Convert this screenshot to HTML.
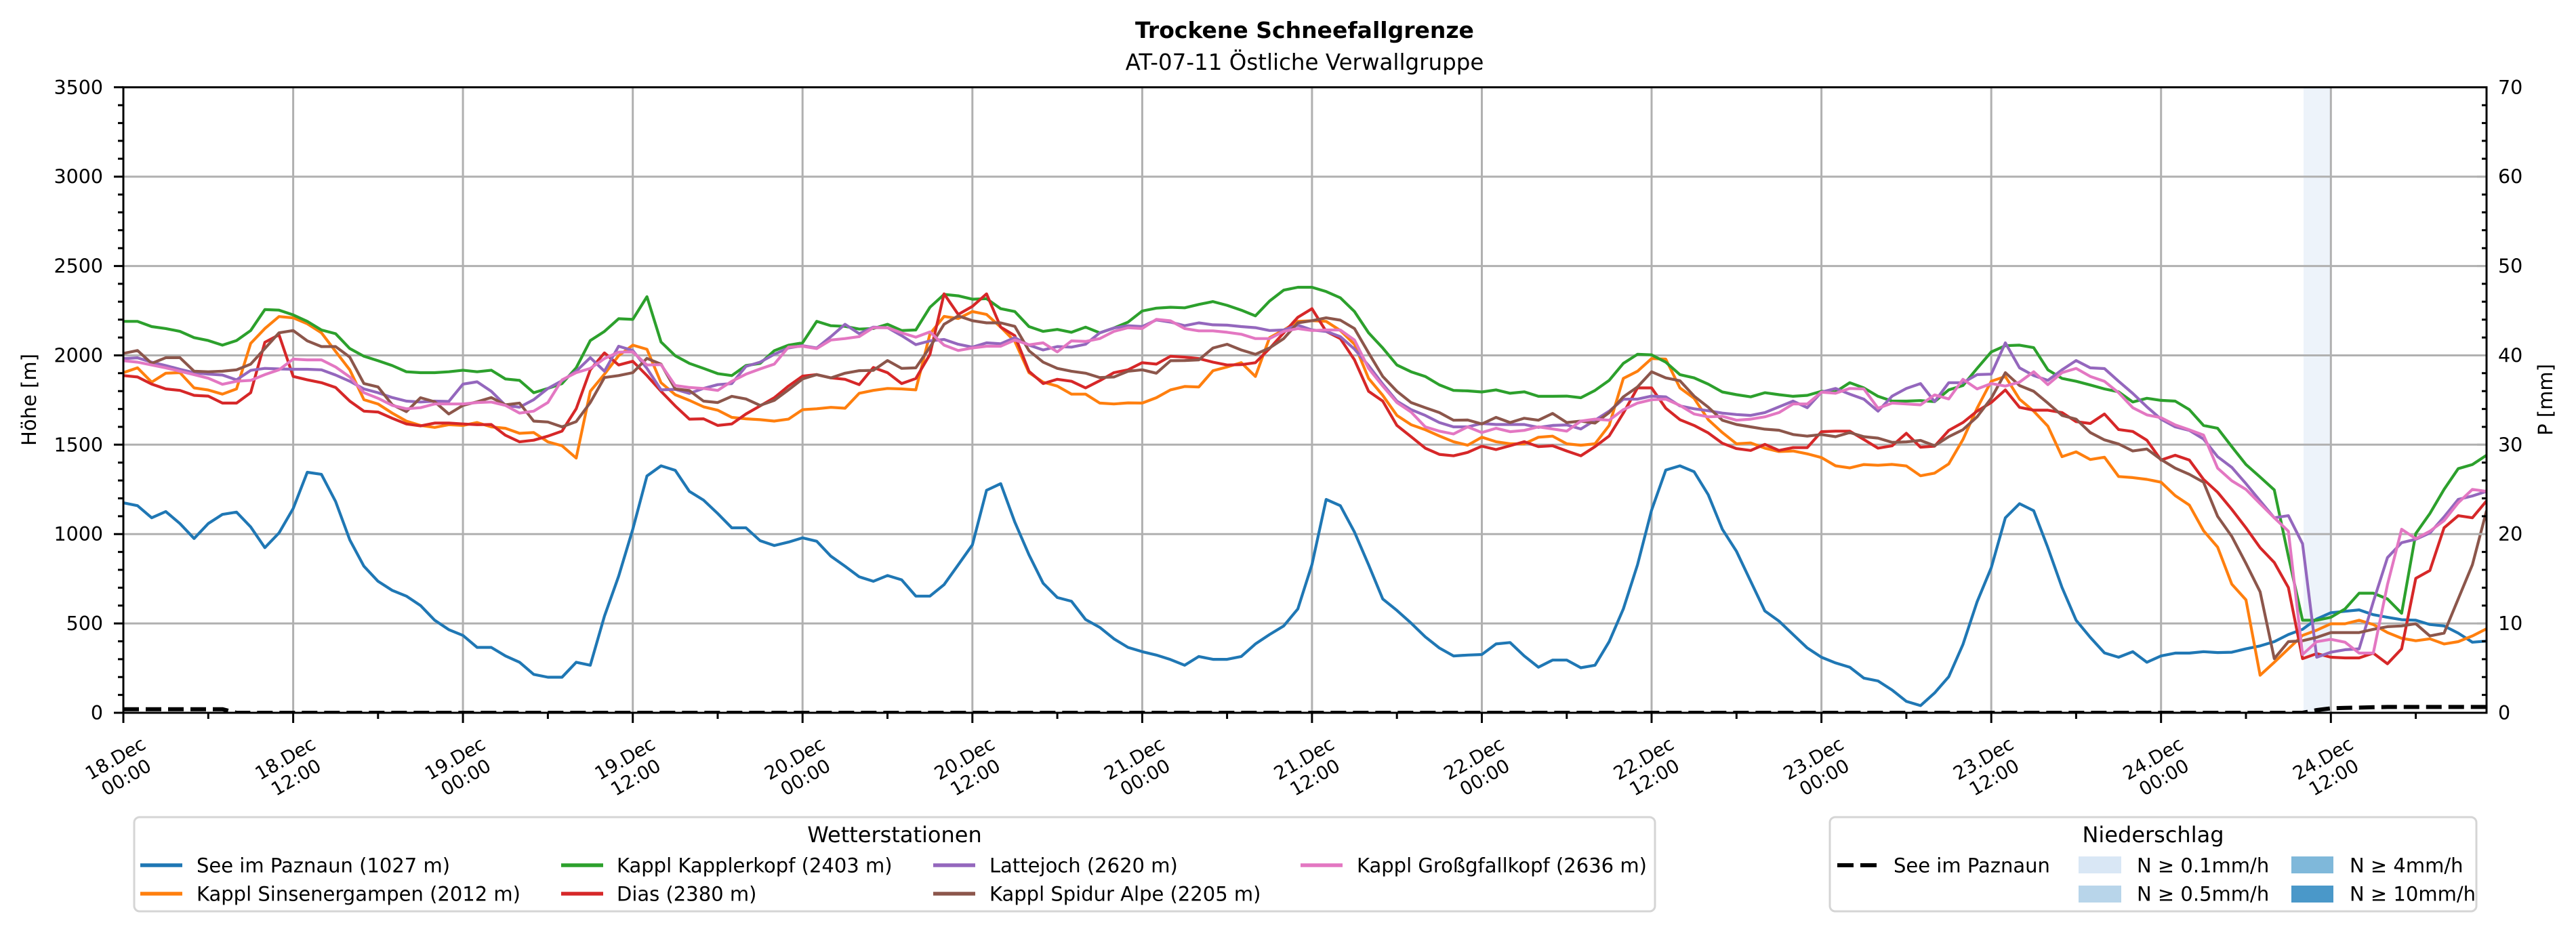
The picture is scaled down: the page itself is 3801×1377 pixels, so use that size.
<!DOCTYPE html>
<html>
<head>
<meta charset="utf-8">
<style>
html,body{margin:0;padding:0;background:#fff;}
body{width:3801px;height:1377px;overflow:hidden;}
svg{display:block;}
text{font-family:"DejaVu Sans","Liberation Sans",sans-serif;fill:#000;}
</style>
</head>
<body>
<svg id="s" width="3801" height="1377" viewBox="0 0 3801 1377" xmlns="http://www.w3.org/2000/svg">
<defs>
<clipPath id="ax"><rect x="182" y="128.8" width="3487" height="923.2"/></clipPath>
</defs>
<rect x="0" y="0" width="3801" height="1377" fill="#fff"/>
<!-- precipitation band -->
<rect x="3399" y="128.8" width="41" height="923.2" fill="#edf3fa"/>
<g id="grid" stroke="#b0b0b0" stroke-width="3" fill="none"></g>
<g id="lines" clip-path="url(#ax)" fill="none" stroke-width="4.2" stroke-linejoin="round"></g>
<g id="ticks" stroke="#000" stroke-width="3"></g>
<rect x="182" y="128.8" width="3487" height="923.2" fill="none" stroke="#000" stroke-width="3"/>

<!-- Titles -->
<text x="1925" y="56" text-anchor="middle" font-weight="bold" font-size="33">Trockene Schneefallgrenze</text>
<text x="1925" y="103" text-anchor="middle" font-size="32.5">AT-07-11 Östliche Verwallgruppe</text>

<!-- Left tick labels -->
<g font-size="28.5" text-anchor="end">
<text x="152" y="1062">0</text>
<text x="152" y="930.1">500</text>
<text x="152" y="798.2">1000</text>
<text x="152" y="666.3">1500</text>
<text x="152" y="534.5">2000</text>
<text x="152" y="402.6">2500</text>
<text x="152" y="270.7">3000</text>
<text x="152" y="138.8">3500</text>
</g>
<!-- Right tick labels -->
<g font-size="28.5" text-anchor="start">
<text x="3686" y="1062">0</text>
<text x="3686" y="930.1">10</text>
<text x="3686" y="798.2">20</text>
<text x="3686" y="666.3">30</text>
<text x="3686" y="534.5">40</text>
<text x="3686" y="402.6">50</text>
<text x="3686" y="270.7">60</text>
<text x="3686" y="138.8">70</text>
</g>
<!-- Axis labels -->
<text transform="translate(53,590) rotate(-90)" text-anchor="middle" font-size="29">Höhe [m]</text>
<text transform="translate(3766,590) rotate(-90)" text-anchor="middle" font-size="29">P [mm]</text>

<!-- X tick labels -->
<g font-size="27.5" text-anchor="middle">
<g transform="translate(178,1133) rotate(-30)"><text x="0" y="-6">18.Dec</text><text x="0" y="26">00:00</text></g>
<g transform="translate(428.6,1133) rotate(-30)"><text x="0" y="-6">18.Dec</text><text x="0" y="26">12:00</text></g>
<g transform="translate(679.1,1133) rotate(-30)"><text x="0" y="-6">19.Dec</text><text x="0" y="26">00:00</text></g>
<g transform="translate(929.7,1133) rotate(-30)"><text x="0" y="-6">19.Dec</text><text x="0" y="26">12:00</text></g>
<g transform="translate(1180.2,1133) rotate(-30)"><text x="0" y="-6">20.Dec</text><text x="0" y="26">00:00</text></g>
<g transform="translate(1430.8,1133) rotate(-30)"><text x="0" y="-6">20.Dec</text><text x="0" y="26">12:00</text></g>
<g transform="translate(1681.4,1133) rotate(-30)"><text x="0" y="-6">21.Dec</text><text x="0" y="26">00:00</text></g>
<g transform="translate(1931.9,1133) rotate(-30)"><text x="0" y="-6">21.Dec</text><text x="0" y="26">12:00</text></g>
<g transform="translate(2182.5,1133) rotate(-30)"><text x="0" y="-6">22.Dec</text><text x="0" y="26">00:00</text></g>
<g transform="translate(2433,1133) rotate(-30)"><text x="0" y="-6">22.Dec</text><text x="0" y="26">12:00</text></g>
<g transform="translate(2683.6,1133) rotate(-30)"><text x="0" y="-6">23.Dec</text><text x="0" y="26">00:00</text></g>
<g transform="translate(2934.2,1133) rotate(-30)"><text x="0" y="-6">23.Dec</text><text x="0" y="26">12:00</text></g>
<g transform="translate(3184.7,1133) rotate(-30)"><text x="0" y="-6">24.Dec</text><text x="0" y="26">00:00</text></g>
<g transform="translate(3435.3,1133) rotate(-30)"><text x="0" y="-6">24.Dec</text><text x="0" y="26">12:00</text></g>
</g>

<!-- Legend: Wetterstationen -->
<rect x="198" y="1206" width="2244" height="139" rx="8" ry="8" fill="#fff" stroke="#d5d5d5" stroke-width="3"/>
<text x="1320" y="1243" text-anchor="middle" font-size="32">Wetterstationen</text>
<g stroke-width="5.5">
<line x1="207" y1="1277" x2="269" y2="1277" stroke="#1f77b4"/>
<line x1="207" y1="1319" x2="269" y2="1319" stroke="#ff7f0e"/>
<line x1="828" y1="1277" x2="890" y2="1277" stroke="#2ca02c"/>
<line x1="828" y1="1319" x2="890" y2="1319" stroke="#d62728"/>
<line x1="1377" y1="1277" x2="1439" y2="1277" stroke="#9467bd"/>
<line x1="1377" y1="1319" x2="1439" y2="1319" stroke="#8c564b"/>
<line x1="1919" y1="1277" x2="1981" y2="1277" stroke="#e377c2"/>
</g>
<g font-size="29">
<text x="290" y="1287.5">See im Paznaun (1027 m)</text>
<text x="290" y="1329.5">Kappl Sinsenergampen (2012 m)</text>
<text x="910" y="1287.5">Kappl Kapplerkopf (2403 m)</text>
<text x="910" y="1329.5">Dias (2380 m)</text>
<text x="1460" y="1287.5">Lattejoch (2620 m)</text>
<text x="1460" y="1329.5">Kappl Spidur Alpe (2205 m)</text>
<text x="2002" y="1287.5">Kappl Großgfallkopf (2636 m)</text>
</g>

<!-- Legend: Niederschlag -->
<rect x="2700" y="1206" width="954" height="139" rx="8" ry="8" fill="#fff" stroke="#d5d5d5" stroke-width="3"/>
<text x="3177" y="1243" text-anchor="middle" font-size="32">Niederschlag</text>
<line x1="2711" y1="1277" x2="2770" y2="1277" stroke="#000" stroke-width="6" stroke-dasharray="24 10"/>
<rect x="3067" y="1264" width="63" height="25" fill="#d9e7f5"/>
<rect x="3067" y="1307" width="63" height="25" fill="#b8d5ea"/>
<rect x="3381" y="1264" width="62" height="25" fill="#7fb8da"/>
<rect x="3381" y="1307" width="62" height="25" fill="#4a98c9"/>
<g font-size="29">
<text x="2794" y="1287.5">See im Paznaun</text>
<text x="3153" y="1287.5">N ≥ 0.1mm/h</text>
<text x="3153" y="1329.5">N ≥ 0.5mm/h</text>
<text x="3467" y="1287.5">N ≥ 4mm/h</text>
<text x="3467" y="1329.5">N ≥ 10mm/h</text>
</g>
</svg>
<script>
(function(){
var NS="http://www.w3.org/2000/svg";
var X0=182,PX=20.88,Y0=1052,SY=923.2/3500,SP=923.2/70;
function el(p,t,a){var e=document.createElementNS(NS,t);for(var k in a)e.setAttribute(k,a[k]);p.appendChild(e);return e;}
var grid=document.getElementById('grid'),ticks=document.getElementById('ticks'),lines=document.getElementById('lines');
var i,d="";
for(i=1;i<=13;i++){var x=(X0+i*12*PX).toFixed(1);d+="M"+x+",128.8V1052";}
for(i=1;i<=6;i++){var y=(Y0-i*500*SY).toFixed(1);d+="M182,"+y+"H3669";}
el(grid,'path',{d:d});
var t="";
for(i=0;i<=13;i++){var x=(X0+i*12*PX).toFixed(1);t+="M"+x+",1052V1067";}
for(i=0;i<14;i++){var x=(X0+(i*12+6)*PX).toFixed(1);t+="M"+x+",1052V1061";}
for(i=0;i<=35;i++){var y=(Y0-i*100*SY).toFixed(1);if(i%5==0)t+="M168,"+y+"H182";else t+="M174,"+y+"H182";}
for(i=0;i<=35;i++){var y=(Y0-i*2*SP).toFixed(1);if(i%5!=0)t+="M3662,"+y+"H3669";}
el(ticks,'path',{d:t});
var rt="";for(i=1;i<7;i++){var y=(Y0-i*10*SP).toFixed(1);rt+="M3655,"+y+"H3669";}
el(ticks,'path',{d:rt,stroke:"#b0b0b0"});

var S={
"#1f77b4":[1175,1159,1091,1126,1059,975,1059,1110,1123,1040,924,1006,1143,1346,1334,1182,968,820,736,685,653,600,518,465,433,366,366,318,
283,215,199,199,283,266,541,764,1027,1325,1382,1357,1239,1190,1115,1035,1035,963,936,955,979,960,876,820,761,736,768,744,
653,653,717,828,940,1245,1282,1067,884,725,645,624,522,478,414,366,342,323,298,266,315,299,299,315,385,438,486,581,
830,1194,1159,1011,828,637,573,502,425,363,318,323,326,385,393,318,255,295,295,252,266,398,581,828,1134,1358,1382,1349,
1220,1027,903,736,570,513,438,363,311,279,255,194,178,127,64,40,111,202,382,621,812,1091,1170,1131,924,701,518,422,
335,311,342,283,318,334,334,342,337,339,358,374,398,438,467,525,560,568,576,549,534,521,518,494,486,446,395,401],
"#ff7f0e":[1903,1930,1850,1900,1903,1818,1806,1783,1812,2067,2150,2217,2210,2177,2126,2022,1919,1752,1728,1677,1632,1608,1597,1612,1608,1624,1600,1592,
1564,1568,1516,1494,1425,1799,1895,1998,2057,2034,1847,1780,1748,1712,1693,1653,1645,1640,1632,1643,1696,1701,1709,1704,1788,1804,1815,1812,
1807,2120,2218,2206,2245,2229,2158,2078,1903,1850,1828,1783,1783,1733,1728,1734,1733,1763,1807,1826,1823,1914,1935,1959,1882,2099,2142,2190,
2194,2190,2139,2062,1871,1776,1664,1612,1584,1549,1517,1497,1542,1517,1505,1505,1542,1548,1505,1497,1505,1608,1871,1911,1982,1979,1818,1760,
1640,1568,1505,1510,1481,1462,1465,1449,1428,1382,1370,1389,1385,1390,1381,1326,1341,1393,1529,1704,1855,1882,1755,1688,1604,1433,1460,1417,
1430,1322,1316,1306,1290,1215,1162,1019,927,720,632,210,283,358,433,462,498,498,518,494,449,417,403,414,385,398,430,470],
"#2ca02c":[2190,2190,2161,2150,2134,2099,2083,2057,2083,2139,2256,2253,2226,2190,2142,2121,2038,1995,1970,1943,1908,1903,1903,1908,1917,1908,1917,1868,
1860,1791,1815,1842,1930,2083,2134,2205,2201,2328,2075,1998,1955,1927,1898,1887,1943,1955,2026,2057,2070,2190,2166,2162,2147,2150,2174,2139,
2142,2269,2341,2333,2314,2317,2261,2245,2161,2134,2145,2129,2158,2126,2153,2186,2248,2264,2269,2266,2285,2301,2280,2253,2221,2304,2365,2381,
2381,2357,2322,2245,2126,2041,1946,1908,1882,1835,1804,1801,1795,1807,1788,1796,1771,1771,1772,1763,1804,1860,1955,2006,2003,1962,1892,1874,
1839,1795,1780,1768,1791,1780,1771,1776,1799,1796,1847,1818,1771,1744,1744,1747,1741,1807,1831,1927,2019,2054,2057,2043,1919,1871,1855,1834,
1812,1796,1739,1760,1748,1744,1696,1608,1592,1489,1389,1319,1247,876,518,518,534,581,669,669,637,557,1003,1115,1250,1366,1389,1441],
"#d62728":[1887,1879,1839,1812,1804,1776,1772,1733,1733,1791,2073,2115,1882,1863,1847,1820,1744,1688,1683,1648,1616,1605,1621,1621,1616,1612,1613,1553,
1516,1525,1548,1576,1701,1919,2014,1946,1967,1887,1799,1717,1643,1645,1608,1616,1672,1717,1763,1828,1884,1892,1874,1866,1836,1932,1903,1842,
1870,2006,2344,2229,2274,2344,2158,2110,1911,1842,1866,1855,1818,1858,1903,1919,1959,1951,1995,1990,1982,1962,1946,1948,1959,2038,2126,2213,
2261,2134,2094,1975,1799,1744,1608,1545,1481,1446,1438,1457,1492,1473,1494,1517,1489,1494,1465,1438,1489,1549,1677,1818,1818,1704,1640,1608,
1566,1508,1478,1468,1502,1468,1484,1484,1573,1576,1576,1529,1481,1494,1564,1486,1492,1580,1624,1688,1736,1807,1709,1693,1693,1680,1629,1619,
1672,1585,1574,1525,1414,1441,1414,1306,1234,1138,1035,924,841,701,303,331,311,307,307,334,274,358,752,796,1035,1103,1091,1186],
"#9467bd":[1982,1986,1962,1943,1922,1903,1895,1890,1863,1916,1927,1924,1922,1922,1919,1890,1855,1812,1791,1764,1744,1739,1744,1742,1839,1852,1799,1720,
1710,1752,1815,1858,1911,1987,1911,2051,2027,1927,1807,1810,1787,1815,1836,1842,1938,1962,2006,2041,2054,2041,2105,2174,2121,2158,2155,2110,
2060,2081,2089,2062,2046,2070,2065,2099,2057,2030,2049,2046,2062,2126,2153,2166,2161,2198,2186,2166,2182,2171,2169,2161,2155,2139,2142,2169,
2142,2134,2105,2035,1943,1839,1744,1696,1664,1624,1600,1600,1619,1613,1613,1613,1597,1608,1611,1588,1637,1688,1755,1755,1772,1768,1717,1701,
1690,1677,1669,1664,1680,1712,1744,1707,1794,1815,1783,1755,1688,1772,1815,1842,1741,1847,1847,1892,1895,2070,1930,1887,1860,1919,1971,1930,
1926,1855,1787,1712,1643,1600,1580,1532,1433,1373,1282,1186,1091,1103,946,311,339,353,358,621,868,952,971,1006,1096,1194,1213,1239],
"#8c564b":[2011,2027,1955,1987,1987,1911,1908,1911,1919,1951,2038,2126,2139,2081,2049,2049,1990,1842,1823,1724,1685,1763,1740,1672,1720,1740,1764,1723,
1733,1632,1627,1600,1629,1736,1876,1887,1903,1983,1951,1812,1803,1744,1736,1771,1756,1720,1748,1807,1868,1892,1874,1900,1914,1916,1971,1927,
1930,2046,2174,2221,2194,2182,2182,2162,2026,1962,1927,1911,1900,1876,1879,1911,1919,1900,1970,1971,1975,2041,2062,2030,2006,2041,2094,2182,
2194,2210,2197,2150,2014,1882,1799,1736,1707,1680,1637,1638,1616,1653,1624,1648,1637,1675,1624,1632,1621,1680,1768,1823,1908,1874,1858,1772,
1710,1637,1613,1600,1587,1581,1557,1548,1557,1545,1568,1545,1537,1513,1516,1524,1494,1545,1584,1656,1760,1903,1831,1799,1733,1664,1643,1568,
1527,1504,1465,1476,1417,1369,1334,1290,1099,987,836,677,303,398,403,422,449,449,449,467,482,486,498,430,446,637,828,1131],
"#e377c2":[1970,1962,1946,1930,1911,1892,1872,1838,1855,1860,1892,1919,1979,1975,1975,1935,1879,1791,1760,1720,1701,1707,1728,1728,1728,1736,1739,1720,
1677,1688,1736,1863,1903,1927,1982,2018,2019,1946,1948,1831,1820,1815,1804,1855,1895,1924,1951,2046,2051,2038,2086,2094,2105,2155,2155,2126,
2102,2131,2057,2027,2041,2051,2051,2086,2059,2070,2019,2081,2078,2094,2134,2155,2150,2201,2193,2150,2137,2137,2129,2118,2094,2094,2134,2150,
2139,2142,2142,2086,1927,1828,1736,1683,1600,1576,1560,1600,1568,1592,1573,1580,1600,1588,1576,1632,1643,1637,1696,1733,1752,1755,1720,1672,
1656,1659,1637,1643,1656,1680,1728,1728,1794,1788,1815,1812,1704,1733,1728,1723,1779,1756,1866,1812,1842,1828,1850,1908,1836,1903,1927,1882,
1855,1791,1707,1667,1651,1611,1583,1554,1369,1298,1250,1170,1091,1016,326,398,411,395,334,334,717,1027,974,1016,1075,1175,1250,1239]
};
var order=["#1f77b4","#ff7f0e","#2ca02c","#d62728","#9467bd","#8c564b","#e377c2"];
order.forEach(function(c){
  var a=S[c],p=[];
  for(var j=0;j<a.length;j++)p.push((X0+j*PX).toFixed(1)+","+(Y0-a[j]*SY).toFixed(1));
  el(lines,'polyline',{points:p.join(" "),stroke:c});
});
// precipitation (mm) on right axis
var P=[];
for(i=0;i<168;i++){
  var v=0;
  if(i<=7)v=0.4;
  else if(i==155)v=0.3;else if(i==156)v=0.5;else if(i==157)v=0.55;else if(i==158)v=0.58;else if(i==159)v=0.62;else if(i>=160)v=0.65;
  P.push((X0+i*PX).toFixed(1)+","+(Y0-v*SP).toFixed(1));
}
el(lines,'polyline',{points:P.join(" "),stroke:"#000","stroke-width":6,"stroke-dasharray":"23 10"});
})();
</script>
</body>
</html>
